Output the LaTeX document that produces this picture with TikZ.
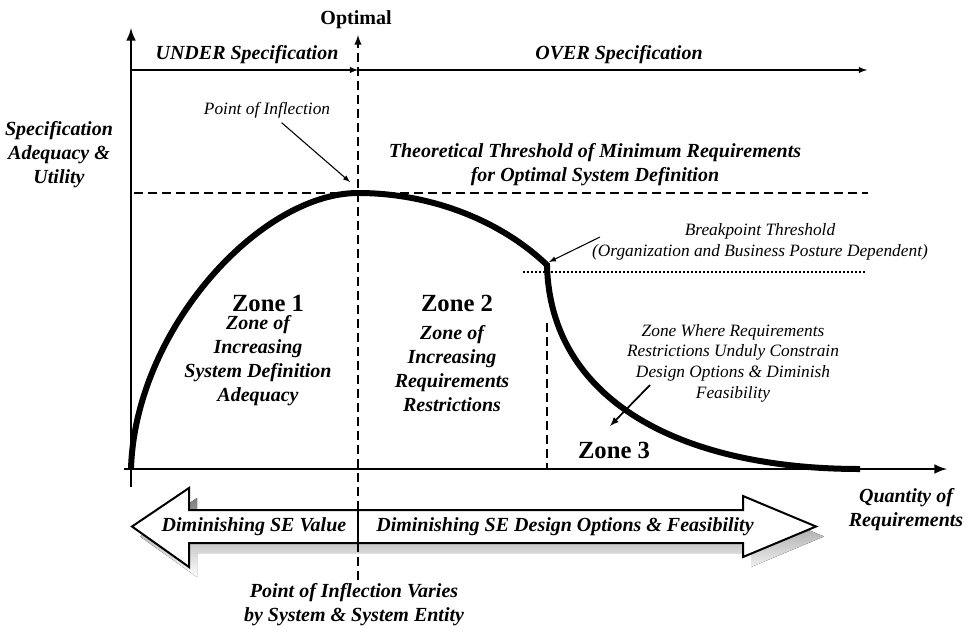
\documentclass[tikz,border=0pt]{standalone}
\usepackage{fontspec}
\setmainfont{Liberation Serif}
\usetikzlibrary{arrows}
\definecolor{shade}{RGB}{190,191,195}

\begin{document}
\begin{tikzpicture}[x=0.75pt,y=-0.75pt,>=latex,
    lbl/.style={font=\fontsize{15}{18}\selectfont\bfseries\itshape,align=center},
    head/.style={font=\fontsize{15}{18}\selectfont\bfseries},
    note/.style={font=\fontsize{13}{15.5}\selectfont\itshape,align=center},
    zone/.style={font=\fontsize{18.5}{22}\selectfont\bfseries},
    axis/.style={line width=2.2pt},
    pointer/.style={line width=0.8pt},
    dashln/.style={line width=1.5pt,dash pattern=on 6.5pt off 4pt},
    dotln/.style={line width=1.5pt,dash pattern=on 1.5pt off 1.5pt}]
  \useasboundingbox (0,0) rectangle (967,629);

  \coordinate (O)     at (131,469);
  \coordinate (ybot)  at (131,487);
  \coordinate (ytop)  at (131,28);
  \coordinate (xleft) at (124,469);
  \coordinate (xend)  at (947,469);
  \coordinate (specL) at (131,70);
  \coordinate (opt)   at (358,70);
  \coordinate (specR) at (867,70);
  \coordinate (optT)  at (358,35);
  \coordinate (optB)  at (358,580);
  \coordinate (thL)   at (134,193);
  \coordinate (peak)  at (358,193);
  \coordinate (thR)   at (868,193);
  \coordinate (brk)   at (547,265);
  \coordinate (dotL)  at (523,272);
  \coordinate (dotR)  at (867,272);
  \coordinate (brkT)  at (547,323);
  \coordinate (brkB)  at (547,469);
  \coordinate (tail)  at (860,469);
  \coordinate (sepT)  at (358,510);
  \coordinate (sepB)  at (358,543);
  \coordinate (infA)  at (350,182);
  \coordinate (bpA)   at (600,237);
  \coordinate (bpB)   at (549,262);
  \coordinate (zwA)   at (650,385);
  \coordinate (zwB)   at (610,426);

  \node[head] (optl)  at (356,20)  {Optimal};
  \node[lbl]  (under) at (247,55)  {UNDER Specification};
  \node[lbl]  (over)  at (619,55)  {OVER Specification};
  \node[lbl]  (ylab)  at (59,155)  {Specification\\Adequacy \&\\Utility};
  \node[lbl]  (theo)  at (595,165) {Theoretical Threshold of Minimum Requirements\\for Optimal System Definition};
  \node[note] (inf)   at (267,110) {Point of Inflection};
  \node[note] (bp)    at (760,242) {Breakpoint Threshold\\(Organization and Business Posture Dependent)};
  \node[zone] (z1)    at (268,303) {Zone 1};
  \node[lbl]  (z1t)   at (258,361) {Zone of\\Increasing\\System Definition\\Adequacy};
  \node[zone] (z2)    at (457,303) {Zone 2};
  \node[lbl]  (z2t)   at (452,369) {Zone of\\Increasing\\Requirements\\Restrictions};
  \node[zone] (z3)    at (614,450) {Zone 3};
  \node[note] (zw)    at (733,363) {Zone Where Requirements\\Restrictions Unduly Constrain\\Design Options \& Diminish\\Feasibility};
  \node[lbl]  (xlab)  at (906,510) {Quantity of\\Requirements};

  \draw[axis,->] (ybot) -- (ytop);
  \draw[axis,->] (xleft) -- (xend);
  \draw[line width=1.1pt,->] (specL) -- (opt);
  \draw[line width=1.1pt,->] (opt) -- (specR);
  \draw[dashln] (thL) -- (thR);
  \draw[dashln] (brkT) -- (brkB);
  \draw[dotln] (dotL) -- (dotR);

  \fill[shade,shift={(8,10)}] (132,526.5) -- (189,488) -- (189,510) -- (743,510) -- (743,496)
    -- (816,526.5) -- (743,557) -- (743,543) -- (189,543) -- (189,567) -- cycle;
  \draw[dashln,->] (optB) -- (optT);
  \draw[line width=1.5pt,fill=white] (132,526.5) -- (189,488) -- (189,510) -- (743,510) -- (743,496)
    -- (816,526.5) -- (743,557) -- (743,543) -- (189,543) -- (189,567) -- cycle;
  \draw[line width=1.5pt] (sepT) -- (sepB);
  \node[lbl]  (val)   at (254,527) {Diminishing SE Value};
  \node[lbl]  (opts)  at (565,527) {Diminishing SE Design Options \& Feasibility};
  \node[lbl]  (vary)  at (354,605) {Point of Inflection Varies\\by System \& System Entity};

  \draw[line width=4.5pt] (O) .. controls (135,330) and (260,193) .. (peak)
    .. controls (430,193) and (500,220) .. (brk)
    .. controls (550,400) and (680,469) .. (tail);

  \draw[pointer,->] (inf) -- (infA);
  \draw[pointer,->] (bpA) -- (bpB);
  \draw[line width=1.3pt,->] (zwA) -- (zwB);
\end{tikzpicture}
\end{document}
